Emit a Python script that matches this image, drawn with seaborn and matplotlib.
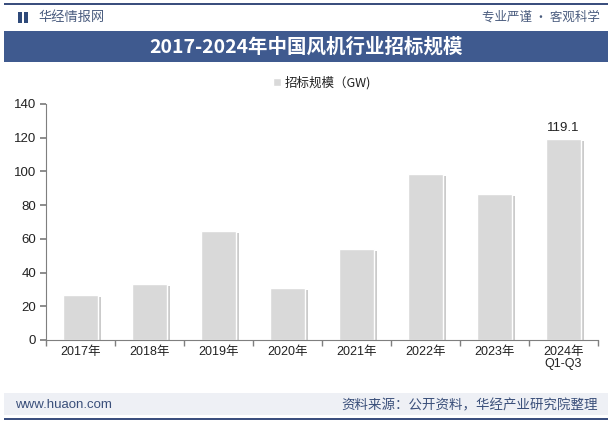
import matplotlib
matplotlib.use("Agg")
import matplotlib.pyplot as plt
import matplotlib.patheffects as pe
from matplotlib.patches import Rectangle
import seaborn as sns
import pandas as pd

categories = ["2017年", "2018年", "2019年", "2020年", "2021年", "2022年", "2023年", "2024年\nQ1-Q3"]
values = [26.8, 33.4, 64.9, 31.0, 54.2, 98.3, 86.4, 119.1]
series_name = "招标规模（GW)"
title = "2017-2024年中国风机行业招标规模"
y_ticks = [0, 20, 40, 60, 80, 100, 120, 140]

sns.set_theme(style="white")
plt.rcParams['font.family'] = ['Noto Sans CJK SC', 'DejaVu Sans']

W, H = 612, 424
fig = plt.figure(figsize=(W / 100, H / 100), dpi=100)
fig.patch.set_facecolor("white")

def fx(px):
    return px / W

def fy(py):
    return 1 - py / H

# top line
fig.add_artist(Rectangle((fx(4), fy(5)), fx(604), 2 / H, transform=fig.transFigure,
                         facecolor="#3B4F7E", edgecolor="none"))
# header
fig.add_artist(Rectangle((fx(18), fy(23)), fx(4), 11 / H, transform=fig.transFigure,
                         facecolor="#2F4A7A", edgecolor="none"))
fig.add_artist(Rectangle((fx(24), fy(23)), fx(4), 11 / H, transform=fig.transFigure,
                         facecolor="#2F4A7A", edgecolor="none"))
fig.text(fx(38), fy(17), "华经情报网", fontsize=9.5, color="#4A5C7E", va="center", ha="left")
fig.text(fx(600), fy(17), "专业严谨 • 客观科学", fontsize=9, color="#4A5C7E", va="center", ha="right")

# title band
fig.add_artist(Rectangle((fx(4), fy(62)), fx(604), 31 / H, transform=fig.transFigure,
                         facecolor="#3F5A8F", edgecolor="none"))
fig.text(0.5, fy(46.5), title, fontsize=14, fontweight="bold", color="white",
         ha="center", va="center")

# footer band
fig.add_artist(Rectangle((fx(4), fy(415)), fx(604), 22 / H, transform=fig.transFigure,
                         facecolor="#EEF0F5", edgecolor="none"))
fig.add_artist(Rectangle((fx(4), fy(420)), fx(604), 2 / H, transform=fig.transFigure,
                         facecolor="#3B4F7E", edgecolor="none"))
fig.text(fx(15), fy(405), "www.huaon.com", fontsize=9.5, color="#3A4F7A", ha="left", va="center",
         family=["Liberation Sans", "DejaVu Sans"])
fig.text(fx(598), fy(405), "资料来源：公开资料，华经产业研究院整理", fontsize=9.7, color="#3A4F7A",
         ha="right", va="center")

# main axes
ax = fig.add_axes([fx(46), 1 - 340 / H, fx(552), 236 / H])
df = pd.DataFrame({"category": categories, "value": values})
sns.barplot(data=df, x="category", y="value", color="#D9D9D9", width=0.5, ax=ax,
            saturation=1, label=series_name)

leg = ax.legend(loc="center", bbox_to_anchor=(0.5, (340 - 83) / 236), bbox_transform=ax.transAxes,
                frameon=False, fontsize=9, handlelength=0.6, handleheight=0.6, handletextpad=0.3,
                labelcolor="#222222")

for p in ax.patches:
    p.set_path_effects([pe.SimplePatchShadow(offset=(2.5, -1.5), shadow_rgbFace="#999999", alpha=0.5),
                        pe.SimplePatchShadow(offset=(1.2, -0.7), shadow_rgbFace="#888888", alpha=0.6),
                        pe.Normal()])

ax.set_ylim(0, 140)
ax.set_xlim(-0.5, len(categories) - 0.5)
ax.set_yticks(y_ticks)
ax.set_xlabel("")
ax.set_ylabel("")
ax.set_facecolor("none")
for s in ["top", "right"]:
    ax.spines[s].set_visible(False)
for s in ["left", "bottom"]:
    ax.spines[s].set_color("#7F7F7F")
    ax.spines[s].set_linewidth(0.8)
ax.tick_params(axis="y", left=True, length=4, color="#7F7F7F", labelsize=9.5, labelcolor="#222222", pad=3)
ax.tick_params(axis="x", bottom=False, length=0, labelsize=9, labelcolor="#222222", pad=4)
ax.set_xticks([i - 0.5 for i in range(len(categories) + 1)], minor=True)
ax.tick_params(axis="x", which="minor", bottom=True, length=4, color="#7F7F7F")
for lab in ax.get_yticklabels():
    lab.set_family(["Liberation Sans", "DejaVu Sans"])
for lab in ax.get_xticklabels():
    lab.set_linespacing(1.0)
    lab.set_family(["Liberation Sans", "Noto Sans CJK SC"])

# value label on last bar
ax.text(len(values) - 1, values[-1] + 3, f"{values[-1]}", ha="center", va="bottom",
        fontsize=9.5, color="#222222", family=["Liberation Sans", "DejaVu Sans"])

fig.savefig("out.png", dpi=100)
